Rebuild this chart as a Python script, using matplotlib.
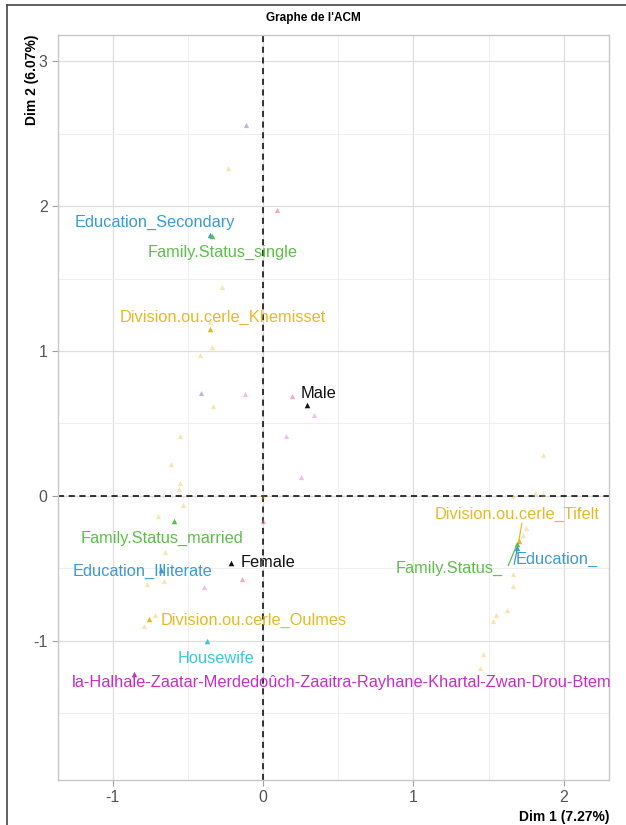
import matplotlib.pyplot as plt
from matplotlib.lines import Line2D

plt.rcParams['font.family'] = ['Liberation Sans', 'DejaVu Sans']
plt.rcParams['axes.unicode_minus'] = False

# labelled categories (coordinates on Dim 1 / Dim 2)
lab_names = ["Education_Secondary", "Family.Status_single", "Division.ou.cerle_Khemisset",
             "Male", "Family.Status_married", "Female", "Education_Illiterate",
             "Division.ou.cerle_Oulmes", "Housewife",
             "la-Halhale-Zaatar-Merdedoûch-Zaaitra-Rayhane-Khartal-Zwan-Drou-Btem",
             "Division.ou.cerle_Tifelt", "Family.Status_", "Education_"]
lab_x = [-0.35, -0.34, -0.35, 0.29, -0.59, -0.21, -0.68, -0.76, -0.37, -0.86, 1.70, 1.69, 1.69]
lab_y = [1.80, 1.79, 1.15, 0.63, -0.17, -0.46, -0.51, -0.85, -1.00, -1.23, -0.31, -0.33, -0.36]
lab_group = ["edu", "fam", "div", "sex", "fam", "sex", "edu", "div", "occ", "reg", "div", "fam", "edu"]

# where the text labels sit
txt_x = [-0.72, -0.27, -0.27, 0.37, -0.67, 0.03, -0.80, -0.06, -0.31, 0.52, 1.69, 1.24, 1.95]
txt_y = [1.89, 1.68, 1.23, 0.71, -0.29, -0.46, -0.52, -0.86, -1.12, -1.29, -0.13, -0.50, -0.44]
# repel segments (label end -> point), only for the crowded right cluster
seg_idx = [10, 11, 12]
seg_x = [1.72, 1.63, 1.67]
seg_y = [-0.19, -0.48, -0.47]

# faded (unlabelled) categories
div_x = [-0.23, -0.27, -0.35, -0.34, -0.42, -0.33, -0.55, -0.61, -0.55, -0.56, -0.53, -0.70,
         -0.65, -0.77, -0.66, -0.72, -0.79, -0.87, 0.00,
         1.86, 1.81, 1.86, 1.66, 1.75, 1.73, 1.66, 1.66, 1.62, 1.55, 1.53, 1.46, 1.44]
div_y = [2.26, 1.44, 1.20, 1.03, 0.97, 0.62, 0.41, 0.22, 0.09, 0.05, -0.06, -0.14,
         -0.39, -0.61, -0.59, -0.82, -0.90, -1.30, 0.00,
         0.28, 0.02, 0.01, 0.00, -0.22, -0.27, -0.54, -0.62, -0.79, -0.82, -0.86, -1.09, -1.19]
lav_x = [-0.11, -0.41]
lav_y = [2.56, 0.71]
pink_x = [-0.12, 0.34, 0.15, 0.25, -0.39]
pink_y = [0.70, 0.56, 0.41, 0.13, -0.63]
red_x = [0.09, 0.19, 0.00, -0.14]
red_y = [1.97, 0.69, -0.17, -0.57]

colors = {"edu": "#3a9ad9", "fam": "#5cbf4a", "div": "#e6b82a", "sex": "#111111",
          "occ": "#3cc8dc", "reg": "#c62fc6"}

fig = plt.figure(figsize=(6.26, 8.25), dpi=100)
ax = fig.add_axes([0.0927, 0.0545, 0.8803, 0.9031])

ax.set_xlim(-1.362, 2.30)
ax.set_ylim(-1.96, 3.18)
ax.set_xticks([-1, 0, 1, 2])
ax.set_yticks([-1, 0, 1, 2, 3])
ax.set_xticks([-0.5, 0.5, 1.5], minor=True)
ax.set_yticks([-1.5, -0.5, 0.5, 1.5, 2.5], minor=True)
ax.grid(which='major', color='#dedede', lw=0.9)
ax.grid(which='minor', color='#ececec', lw=0.6)
ax.set_axisbelow(True)
for s in ax.spines.values():
    s.set_color('#c8c8c8')
    s.set_linewidth(1.0)
ax.tick_params(which='major', length=4, color='#a0a0a0', labelcolor='#555555', labelsize=11.5)
ax.tick_params(which='minor', length=0)

ax.axvline(0, color='black', ls=(0, (4, 3)), lw=1.1, zorder=1)
ax.axhline(0, color='black', ls=(0, (4, 3)), lw=1.1, zorder=1)

ax.scatter(div_x, div_y, marker='^', s=14, color='#e6b82a', alpha=0.35, lw=0, zorder=2)
ax.scatter(lav_x, lav_y, marker='^', s=14, color='#6f6fd8', alpha=0.5, lw=0, zorder=2)
ax.scatter(pink_x, pink_y, marker='^', s=14, color='#e070e0', alpha=0.45, lw=0, zorder=2)
ax.scatter(red_x, red_y, marker='^', s=14, color='#e8707a', alpha=0.55, lw=0, zorder=2)

for k, i in enumerate(seg_idx):
    ax.plot([lab_x[i], seg_x[k]], [lab_y[i], seg_y[k]],
            color=colors[lab_group[i]], lw=0.9, zorder=3)

for i, name in enumerate(lab_names):
    c = colors[lab_group[i]]
    ax.scatter(lab_x[i], lab_y[i], marker='^', s=16, color=c, lw=0, zorder=3)
    ax.text(txt_x[i], txt_y[i], name, color=c, fontsize=11.8, ha='center', va='center',
            zorder=4, clip_on=False)

fig.text(0.5, 1 - 18 / 825, "Graphe de l'ACM", fontsize=8.5, fontweight='bold',
         ha='center', va='center')
ax.set_xlabel("Dim 1 (7.27%)", fontsize=10, fontweight='bold', loc='right', labelpad=3)
ax.set_ylabel("Dim 2 (6.07%)", fontsize=10, fontweight='bold')
ax.yaxis.set_label_coords(-0.048, 1.0)
ax.yaxis.label.set_va('center')
ax.yaxis.label.set_ha('right')

# screenshot frame
fig.add_artist(Line2D([7 / 626, 1], [1 - 5 / 825, 1 - 5 / 825], color='#444444', lw=1.2))
fig.add_artist(Line2D([7 / 626, 7 / 626], [0, 1 - 5 / 825], color='#444444', lw=1.2))

fig.savefig('out.png', dpi=100)
